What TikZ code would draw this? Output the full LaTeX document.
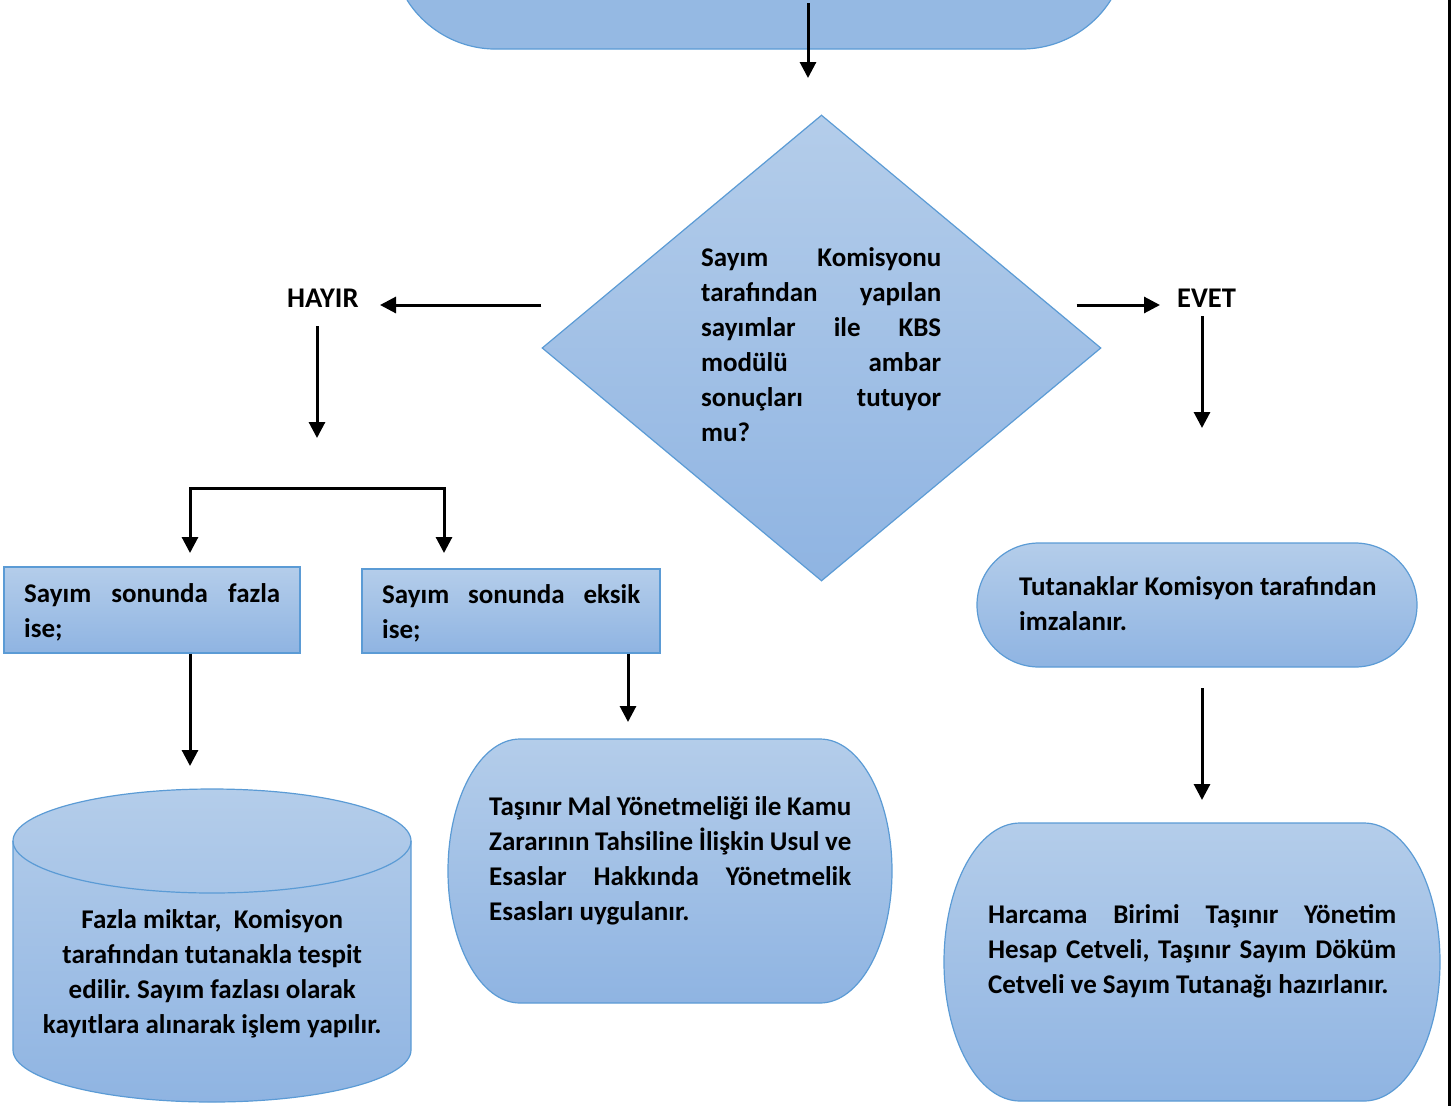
\documentclass[tikz,border=0pt]{standalone}
\usepackage{fontspec}
\setmainfont{Carlito}
\usetikzlibrary{arrows.meta,shapes.geometric,shapes.misc,calc}
\definecolor{bordc}{RGB}{91,155,213}
\definecolor{fillt}{RGB}{180,205,234}
\definecolor{fillb}{RGB}{143,180,226}
\definecolor{filltop}{RGB}{149,185,227}
\newdimen\lw
\newcommand\J[1]{\hbox to\lw{#1}}
\newcommand\Lf[1]{\hbox to\lw{#1\hfil}}
\newcommand\Cc[1]{\hbox to\lw{\hfil#1\hfil}}
\newcommand\para[2]{\lw=#1\relax\vtop{#2}}
\frenchspacing
\begin{document}
\begin{tikzpicture}[x=1pt,y=1pt,
  shp/.style={draw=bordc, line width=1.2pt, top color=fillt, bottom color=fillb},
  bord/.style={draw=bordc, line width=1.2pt},
  txt/.style={inner sep=0pt, anchor=base west, font=\fontsize{27}{35}\selectfont\bfseries},
  lbl/.style={inner sep=0pt, anchor=base west, font=\fontsize{28.5}{35}\selectfont\bfseries},
  arr/.style={line width=3pt, -{Triangle[width=16pt,length=16pt]}},
  brk/.style={line width=3pt, {Triangle[width=16pt,length=16pt]}-{Triangle[width=16pt,length=16pt]}},
]
\useasboundingbox (0,0) rectangle (1451,-1106);

% top (cut off) shape
\fill[filltop] (407,0) arc[start angle=212.2,end angle=270,radius=105] -- (1022,-49)
  arc[start angle=-90,end angle=-32.2,radius=105] -- cycle;
\draw[bord] (407,0) arc[start angle=212.2,end angle=270,radius=105] -- (1022,-49)
  arc[start angle=-90,end angle=-32.2,radius=105];

% decision
\node[shp, diamond, minimum width=559pt, minimum height=466pt, inner sep=0pt] (dia) at (821.5,-348) {};
\node[txt] (diat) at (701,-266) {\para{240pt}{\J{Sayım Komisyonu}\J{tarafından yapılan}\J{sayımlar ile KBS}\J{modülü ambar}\J{sonuçları tutuyor}\Lf{mu?}}};

\node[lbl] (hayir) at (287,-307) {HAYIR};
\node[lbl] (evet) at (1177,-307) {EVET};

% boxes
\node[shp, rectangle, minimum width=296pt, minimum height=86pt, inner sep=0pt] (box1) at (152,-610) {};
\node[txt] (box1t) at (24,-602) {\para{256pt}{\J{Sayım sonunda fazla}\Lf{ise;}}};
\node[shp, rectangle, minimum width=298pt, minimum height=84pt, inner sep=0pt] (box2) at (511,-611) {};
\node[txt] (box2t) at (382,-603) {\para{258pt}{\J{Sayım sonunda eksik}\Lf{ise;}}};

\node[shp, rounded rectangle, minimum width=440pt, minimum height=124pt, inner sep=0pt] (tut) at (1197,-605) {};
\node[txt] (tutt) at (1019,-595) {\para{370pt}{\Lf{Tutanaklar Komisyon tarafından}\Lf{imzalanır.}}};

% cylinder
\path[shp] (13,-841) arc[start angle=180,end angle=0,x radius=199,y radius=52] -- (411,-1050)
  arc[start angle=0,end angle=-180,x radius=199,y radius=52] -- cycle;
\draw[bord] (13,-841) arc[start angle=180,end angle=360,x radius=199,y radius=52];
\node[txt] (cylt) at (13,-928) {\para{398pt}{\Cc{Fazla miktar,~~Komisyon}\Cc{tarafından tutanakla tespit}\Cc{edilir. Sayım fazlası olarak}\Cc{kayıtlara alınarak işlem yapılır.}}};

% Tasinir shape
\path[shp] (520,-739) -- (820,-739) arc[start angle=90,end angle=-90,x radius=72,y radius=132]
  -- (520,-1003) arc[start angle=270,end angle=90,x radius=72,y radius=132] -- cycle;
\node[txt] (tast) at (489,-815) {\para{362pt}{\J{Taşınır Mal Yönetmeliği ile Kamu}\J{Zararının Tahsiline İlişkin Usul ve}\J{Esaslar Hakkında Yönetmelik}\Lf{Esasları uygulanır.}}};

% Harcama shape
\path[shp] (1020,-823) -- (1364,-823) arc[start angle=90,end angle=-90,x radius=76,y radius=139]
  -- (1020,-1101) arc[start angle=270,end angle=90,x radius=76,y radius=139] -- cycle;
\node[txt] (hart) at (988,-923) {\para{408pt}{\J{Harcama Birimi Taşınır Yönetim}\J{Hesap Cetveli, Taşınır Sayım Döküm}\Lf{Cetveli ve Sayım Tutanağı hazırlanır.}}};

% connector ends
\coordinate (topsrc) at (808,-3);
\coordinate (topIn) at (808,-78);
\coordinate (hayIn) at (380,-305);
\coordinate (evIn) at (1160,-305);
\coordinate (hy1) at (317,-326);
\coordinate (hy2) at (317,-438);
\coordinate (ev1) at (1202,-316);
\coordinate (ev2) at (1202,-428);
\coordinate (brL) at (190,-553);
\coordinate (brR) at (444,-553);
\coordinate (brTop) at (0,-488);
\coordinate (c1In) at (190,-766);
\coordinate (c2In) at (628,-722);
\coordinate (tu1) at (1202,-688);
\coordinate (tu2) at (1202,-800);

\draw[arr] (topsrc) -- (topIn);
\draw[arr] ([yshift=43pt]dia.west) -- (hayIn);
\draw[arr] ([shift={(-25pt,43pt)}]dia.east) -- (evIn);
\draw[arr] (hy1) -- (hy2);
\draw[arr] (ev1) -- (ev2);
\draw[brk] (brL) -- (brL |- brTop) -- (brR |- brTop) -- (brR);
\draw[arr] ([xshift=38pt]box1.south) -- (c1In);
\draw[arr] ([xshift=117pt]box2.south) -- (c2In);
\draw[arr] (tu1) -- (tu2);

% page edge line
\draw[line width=3pt] (1449,0) -- (1449,-1106);
\end{tikzpicture}
\end{document}
